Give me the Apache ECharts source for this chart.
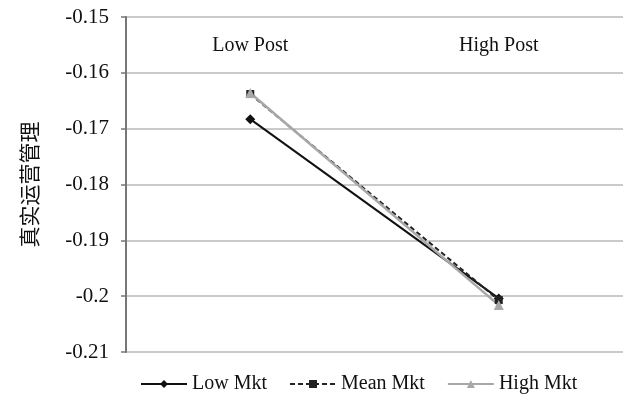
<!DOCTYPE html>
<html><head><meta charset="utf-8">
<script src="https://cdn.jsdelivr.net/npm/echarts@6/dist/echarts.min.js"></script>
<style>html,body{margin:0;padding:0;background:#fff}#c{width:627px;height:400px}</style>
</head><body><div id="c"></div>
<script>
var categories = ['Low Post', 'High Post'];
var lowMkt = [-0.1683, -0.2004];
var meanMkt = [-0.1638, -0.2007];
var highMkt = [-0.1636, -0.2016];
var yTicks = [-0.21, -0.2, -0.19, -0.18, -0.17, -0.16, -0.15];

var chart = echarts.init(document.getElementById('c'));
var serif = '"Liberation Serif", "Times New Roman", serif';
chart.setOption({
  animation: false,
  grid: { left: 126, right: 4, top: 17, bottom: 48 },
  legend: {
    bottom: 1, left: 135, itemWidth: 46, itemHeight: 10, itemGap: 22,
    textStyle: { fontFamily: serif, fontSize: 20, color: '#111' },
    data: ['Low Mkt', 'Mean Mkt', 'High Mkt']
  },
  xAxis: {
    type: 'category', data: categories, position: 'top',
    axisLine: { show: false }, axisTick: { show: false },
    axisLabel: { inside: true, margin: 19, fontFamily: serif, fontSize: 20, color: '#111' }
  },
  yAxis: {
    type: 'value', min: -0.21, max: -0.15, interval: 0.01,
    name: '真实运营管理', nameLocation: 'middle', nameRotate: 90, nameGap: 86,
    nameTextStyle: { fontFamily: '"Noto Sans CJK SC"', fontSize: 21, color: '#111' },
    axisLine: { show: true, lineStyle: { color: '#777', width: 2 } },
    axisTick: { show: true, length: 5, inside: false, lineStyle: { color: '#777', width: 1.5 } },
    splitLine: { lineStyle: { color: '#b8b8b8', width: 1.5 } },
    axisLabel: {
      margin: 17, fontFamily: serif, fontSize: 21, color: '#111',
      formatter: function (v) { return String(Math.round(v * 100) / 100); }
    }
  },
  series: [
    { name: 'Low Mkt', type: 'line', data: lowMkt, symbol: 'diamond', symbolSize: 10,
      itemStyle: { color: '#111' }, lineStyle: { color: '#111', width: 2 } },
    { name: 'Mean Mkt', type: 'line', data: meanMkt, symbol: 'rect', symbolSize: 8,
      itemStyle: { color: '#222' }, lineStyle: { color: '#222', width: 2, type: [5, 3] } },
    { name: 'High Mkt', type: 'line', data: highMkt, symbol: 'triangle', symbolSize: 10,
      itemStyle: { color: '#a8a8a8' }, lineStyle: { color: '#a8a8a8', width: 2.5 } }
  ]
});
</script></body></html>
